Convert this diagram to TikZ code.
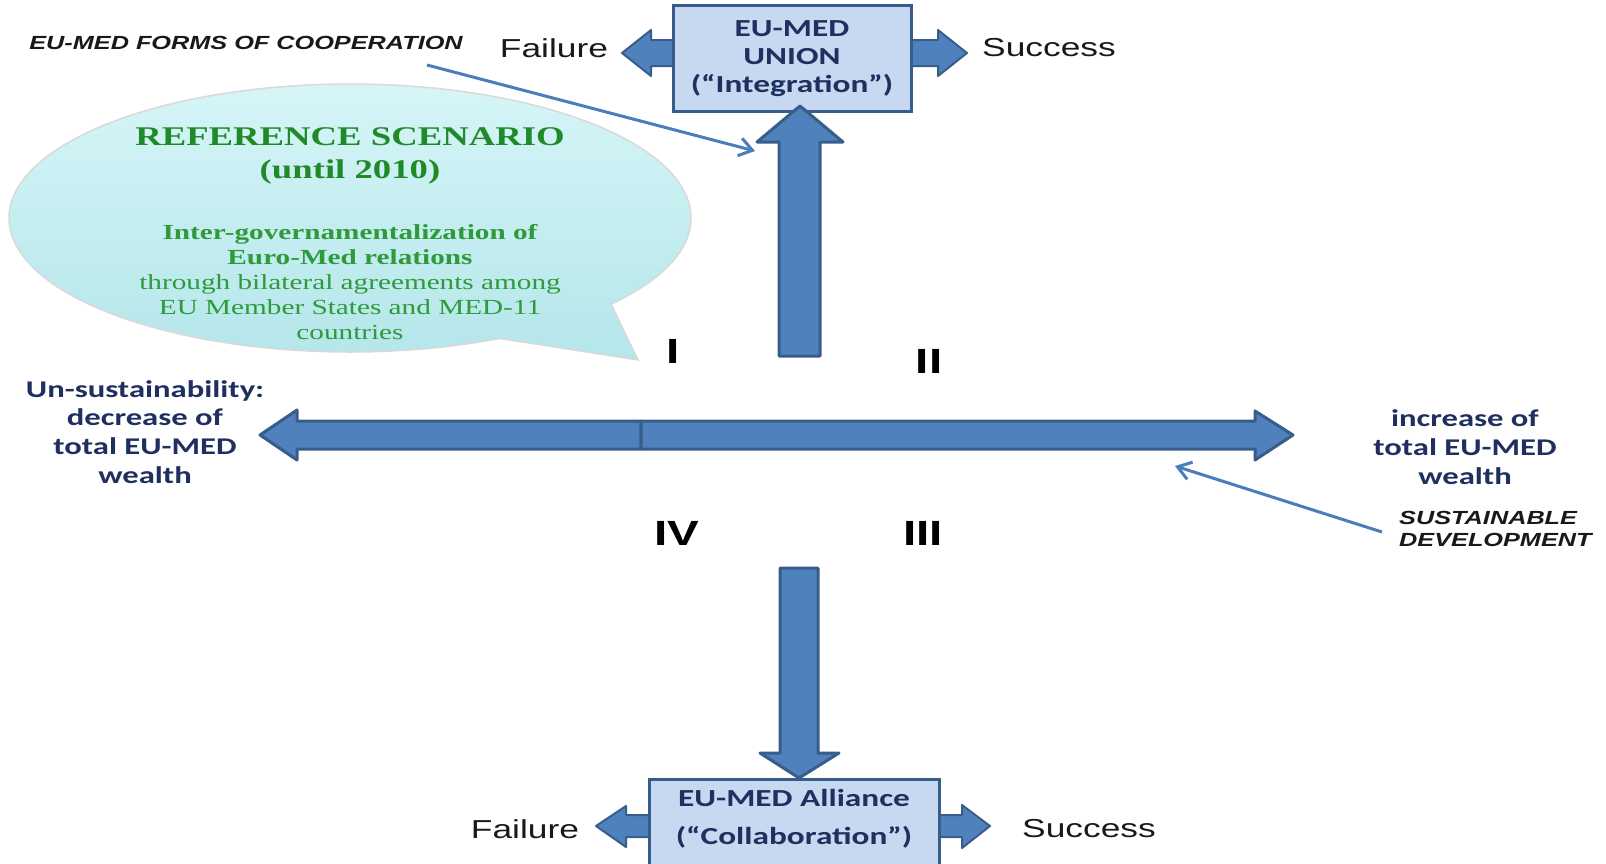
\documentclass[tikz,border=0pt]{standalone}
\usepackage{fontspec}
\usepackage{graphicx}
\usetikzlibrary{arrows.meta,calc}
\newfontfamily\arialf{Liberation Sans}
\newfontfamily\calf{Carlito}
\newfontfamily\timesf{Liberation Serif}
\newcommand\wx[1]{\scalebox{1.36}[1]{#1}}
\definecolor{arrowblue}{HTML}{4F81BD}
\definecolor{arrowedge}{HTML}{385D8A}
\definecolor{boxfill}{HTML}{C6D9F1}
\definecolor{navy}{HTML}{1F2F5F}
\definecolor{bubgreen}{HTML}{208A28}
\definecolor{bubgreenlight}{HTML}{2E9A3A}
\definecolor{bubtop}{HTML}{D8F6F8}
\definecolor{bubbot}{HTML}{B4E6EA}
\definecolor{callblue}{HTML}{4A7EBB}
\begin{document}
\begin{tikzpicture}[x=1pt,y=1pt,
  blockarrow/.style={fill=arrowblue, draw=arrowedge, line width=3pt, line join=round},
  smallarrow/.style={blockarrow, line width=2pt},
  scenbox/.style={rectangle, fill=boxfill, draw=arrowedge, line width=3pt, inner sep=0pt},
  boxtext/.style={text=navy, font=\calf\bfseries\fontsize{24.5}{28}\selectfont, align=center, inner sep=0pt},
  axistext/.style={text=navy, font=\calf\bfseries\fontsize{24}{28.7}\selectfont, align=center, inner sep=0pt},
  outcome/.style={text=black!90, font=\arialf\fontsize{26}{30}\selectfont, inner sep=0pt},
  italiclabel/.style={text=black!90, font=\arialf\bfseries\itshape\fontsize{19}{22}\selectfont, inner sep=0pt},
  quadrant/.style={text=black, font=\arialf\bfseries\fontsize{35}{40}\selectfont, inner sep=0pt},
  bubtitle/.style={text=bubgreen, font=\timesf\bfseries\fontsize{27}{33}\selectfont, align=center, inner sep=0pt},
  bubbody/.style={text=bubgreenlight, font=\timesf\fontsize{21.5}{25}\selectfont, align=center, inner sep=0pt},
  callout/.style={draw=callblue, line width=3pt, -{Straight Barb[length=13pt,width=18pt]}}
]
\useasboundingbox (0,0) rectangle (1606,-863);

% speech bubble
\path[top color=bubtop, bottom color=bubbot, draw=gray!30, line width=1.5pt]
  (350,-218) ++(-40:341 and 134) arc[start angle=-40, end angle=296, x radius=341, y radius=134]
  -- (638,-360) -- cycle;
\node[bubtitle] (reftitle) at (350,-156) {\wx{REFERENCE SCENARIO}\\\wx{(until 2010)}};
\node[bubbody] (refbody) at (350,-282) {{\bfseries\wx{Inter-governamentalization of}}\\{\bfseries\wx{Euro-Med relations}}\\\wx{through bilateral agreements among}\\\wx{EU Member States and MED-11}\\\wx{countries}};

% small side arrows of the top box
\path[smallarrow] (676,-40) -- (651,-40) -- (651,-30) -- (622,-53) -- (651,-76) -- (651,-66) -- (676,-66) -- cycle;
\path[smallarrow] (908,-40) -- (938,-40) -- (938,-30) -- (967,-53) -- (938,-76) -- (938,-66) -- (908,-66) -- cycle;

% top box
\node[scenbox, boxtext, minimum width=238pt, minimum height=106pt] (union) at (792,-58.5)
  {\wx{EU-MED}\\\wx{UNION}\\\wx{(“Integration”)}};
\node[outcome] (topfail) at (554,-48) {\wx{Failure}};
\node[outcome] (topsucc) at (1049,-48) {\wx{Success}};

% vertical up arrow
\path[blockarrow] (779,-356) -- (779,-142) -- (757,-142) -- (800,-106) -- (843,-142) -- (820,-142) -- (820,-356) -- cycle;

% horizontal arrows
\path[blockarrow] (641,-421) -- (297,-421) -- (297,-410) -- (260,-435) -- (297,-460) -- (297,-449) -- (641,-449) -- cycle;
\path[blockarrow] (641,-421) -- (1255,-421) -- (1255,-411) -- (1293,-435) -- (1255,-460) -- (1255,-449) -- (641,-449) -- cycle;

% down arrow
\path[blockarrow] (780,-568) -- (818,-568) -- (818,-753) -- (839,-753) -- (799,-778) -- (760,-753) -- (780,-753) -- cycle;

% bottom small arrows
\path[smallarrow] (651,-815) -- (626,-815) -- (626,-806) -- (596,-826) -- (626,-847) -- (626,-837) -- (651,-837) -- cycle;
\path[smallarrow] (937,-815) -- (962,-815) -- (962,-805) -- (990,-826) -- (962,-848) -- (962,-837) -- (937,-837) -- cycle;

% bottom box
\node[scenbox, minimum width=290pt, minimum height=100pt, anchor=north] (alliance) at (794,-778) {};
\node[boxtext, text depth=0pt] (alliancetext) at (794,-817) {\wx{EU-MED Alliance}\\[10pt]\wx{(“Collaboration”)}};
\node[outcome] (botfail) at (525,-829) {\wx{Failure}};
\node[outcome] (botsucc) at (1089,-829) {\wx{Success}};

% quadrant numerals
\node[quadrant] (qI) at (673,-351) {\wx{I}};
\node[quadrant] (qII) at (929,-361) {\wx{II}};
\node[quadrant] (qIV) at (677,-533) {\wx{IV}};
\node[quadrant] (qIII) at (923,-533) {\wx{III}};

% axis labels
\node[axistext] (leftlab) at (145,-432) {\wx{Un-sustainability:}\\\wx{decrease of}\\\wx{total EU-MED}\\\wx{wealth}};
\node[axistext] (rightlab) at (1465,-447) {\wx{increase of}\\\wx{total EU-MED}\\\wx{wealth}};

% italic labels and callouts
\node[italiclabel] (forms) at (246,-43) {\scalebox{1.33}[1]{EU-MED FORMS OF COOPERATION}};
\node[italiclabel, align=left, anchor=west] (sustdev) at (1399,-529) {\scalebox{1.33}[1]{SUSTAINABLE}\\\scalebox{1.33}[1]{DEVELOPMENT}};
\coordinate (formsstart) at (427,-65);
\coordinate (formstip) at (755,-151);
\coordinate (suststart) at (1382,-532);
\coordinate (susttip) at (1175,-466);
\draw[callout] (formsstart) -- (formstip);
\draw[callout] (suststart) -- (susttip);
\end{tikzpicture}
\end{document}
